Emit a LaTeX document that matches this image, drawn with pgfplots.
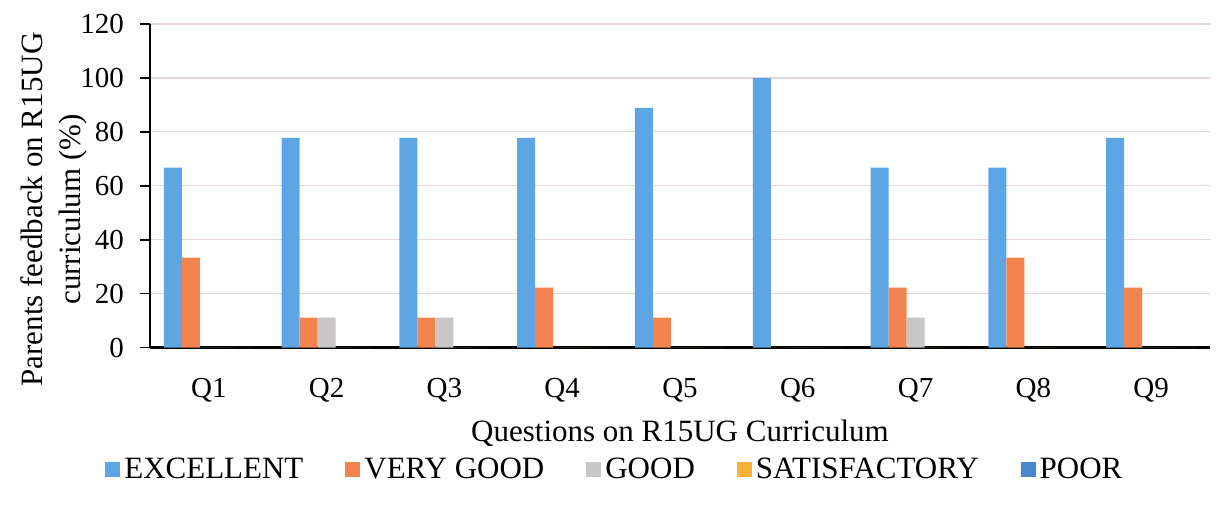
\documentclass[border=0pt]{standalone}
\usepackage{pgfplots}
\pgfplotsset{compat=1.18}
\usepackage{fontspec}
\setmainfont{Liberation Serif}
\definecolor{cExc}{HTML}{5EA6E3}
\definecolor{cVG}{HTML}{F4844F}
\definecolor{cGood}{HTML}{C8C6C6}
\definecolor{cSat}{HTML}{F6B23A}
\definecolor{cPoor}{HTML}{4A86CF}
\definecolor{gridc}{HTML}{E6D6DA}
\begin{document}
\begin{tikzpicture}
\path[use as bounding box] (-75pt,-83.75pt) rectangle (535.5pt,173.75pt);
\begin{axis}[
  at={(0pt,0pt)}, anchor=south west,
  width=530pt, height=161.75pt, scale only axis,
  ybar=0pt, bar width=9pt,
  xmin=0.5, xmax=9.5, ymin=0, ymax=120,
  xtick={1,2,3,4,5,6,7,8,9},
  xticklabels={Q1,Q2,Q3,Q4,Q5,Q6,Q7,Q8,Q9},
  ytick={0,20,40,60,80,100,120},
  axis lines=left,
  x axis line style={-, line width=1.5pt},
  y axis line style={-, line width=1pt},
  xtick style={draw=none},
  ytick style={black, line width=0.9pt},
  tick align=outside, major tick length=5pt,
  ymajorgrids, grid style={color=gridc, line width=0.6pt},
  /pgf/number format/assume math mode=true,
  ticklabel style={font=\fontsize{14.5}{16}\selectfont},
  xticklabel style={yshift=-7pt},
  yticklabel style={xshift=-4.5pt},
  xlabel={Questions on R15UG Curriculum},
  xlabel style={font=\fontsize{15.5}{19}\selectfont, at={(axis description cs:0.5,-0.265)}, anchor=center},
  ylabel={Parents feedback on R15UG\\curriculum (\%)},
  ylabel style={font=\fontsize{15.5}{19}\selectfont, align=center, at={(axis description cs:-0.0905,0.4265)}, anchor=center},
  legend columns=5,
  legend style={draw=none, fill=none, at={(axis description cs:0.4395,-0.378)}, anchor=center,
    font=\fontsize{15.5}{19}\selectfont,
    /tikz/every even column/.append style={column sep=19pt}},
  legend image code/.code={\fill[#1] (0pt,-3.75pt) rectangle (7.5pt,3.75pt);},
]
\addplot[fill=cExc, draw=none] coordinates {(1,66.7) (2,77.8) (3,77.8) (4,77.8) (5,88.9) (6,100) (7,66.7) (8,66.7) (9,77.8)};
\addplot[fill=cVG, draw=none] coordinates {(1,33.3) (2,11.1) (3,11.1) (4,22.2) (5,11.1) (6,0) (7,22.2) (8,33.3) (9,22.2)};
\addplot[fill=cGood, draw=none] coordinates {(1,0) (2,11.1) (3,11.1) (4,0) (5,0) (6,0) (7,11.1) (8,0) (9,0)};
\addplot[fill=cSat, draw=none] coordinates {(1,0) (2,0) (3,0) (4,0) (5,0) (6,0) (7,0) (8,0) (9,0)};
\addplot[fill=cPoor, draw=none] coordinates {(1,0) (2,0) (3,0) (4,0) (5,0) (6,0) (7,0) (8,0) (9,0)};
\legend{EXCELLENT,VERY GOOD,GOOD,SATISFACTORY,POOR}
\end{axis}
\end{tikzpicture}
\end{document}
